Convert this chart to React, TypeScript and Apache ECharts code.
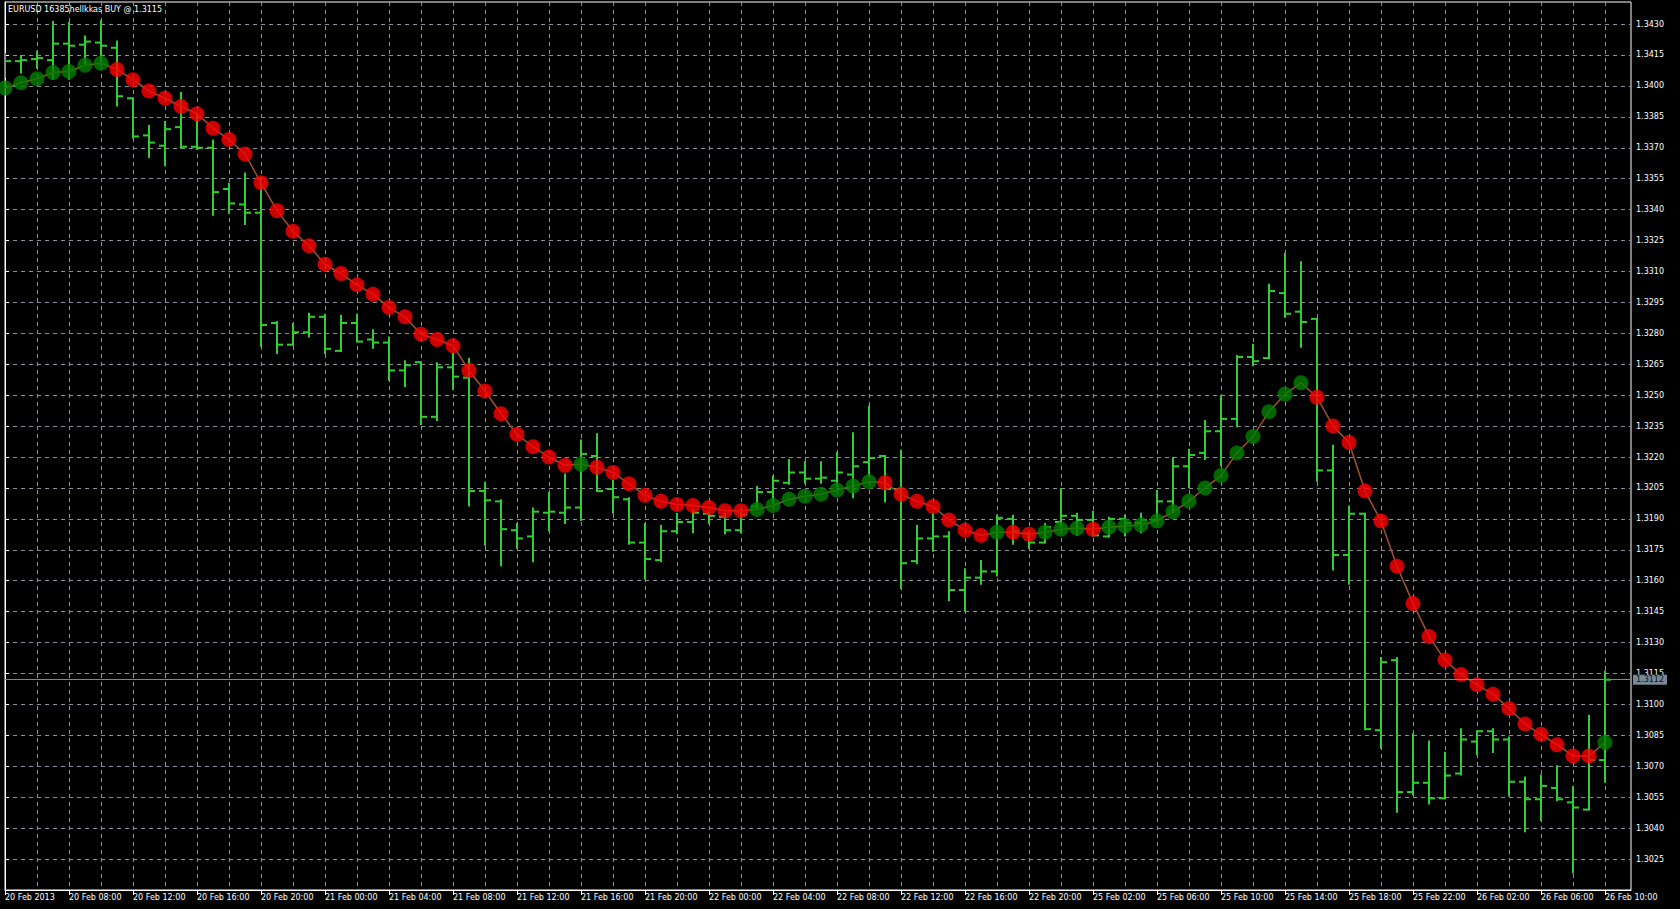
import React, { useEffect, useRef } from 'react';
import * as echarts from 'echarts';

const chartTitle = 'EURUSD 16385hellkkas BUY @ 1.3115';

// one label for every 4th hourly bar
const timeLabels = [
  '20 Feb 2013', '20 Feb 08:00', '20 Feb 12:00', '20 Feb 16:00', '20 Feb 20:00',
  '21 Feb 00:00', '21 Feb 04:00', '21 Feb 08:00', '21 Feb 12:00', '21 Feb 16:00',
  '21 Feb 20:00', '22 Feb 00:00', '22 Feb 04:00', '22 Feb 08:00', '22 Feb 12:00',
  '22 Feb 16:00', '22 Feb 20:00', '25 Feb 02:00', '25 Feb 06:00', '25 Feb 10:00',
  '25 Feb 14:00', '25 Feb 18:00', '25 Feb 22:00', '26 Feb 02:00', '26 Feb 06:00',
  '26 Feb 10:00',
];

const opens = [
  1.3410, 1.3412, 1.3413, 1.34125, 1.34205, 1.3420, 1.3421, 1.34185, 1.3394, 1.3376,
  1.3371, 1.3380, 1.33705, 1.3370, 1.3350, 1.33425, 1.33385, 1.3285, 1.32745, 1.32805,
  1.3288, 1.32715, 1.3285, 1.3277, 1.32755, 1.3262, 1.3266, 1.32395, 1.32635, 1.32585,
  1.32035, 1.31985, 1.31845, 1.31815, 1.3193, 1.3193, 1.31955, 1.32205, 1.32045, 1.31995,
  1.31785, 1.3170, 1.3184, 1.31885, 1.31925, 1.3191, 1.31845, 1.3196, 1.3203, 1.32075,
  1.32125, 1.32095, 1.32085, 1.32115, 1.32175, 1.32205, 1.32045, 1.31695, 1.31805, 1.31815,
  1.31555, 1.31615, 1.31645, 1.3190, 1.3183, 1.31785, 1.31885, 1.31915, 1.31895, 1.31815,
  1.3190, 1.3188, 1.31895, 1.31985, 1.32155, 1.3222, 1.32325, 1.32385, 1.32685, 1.3268,
  1.32995, 1.32905, 1.3287, 1.32135, 1.31725, 1.31925, 1.30875, 1.31215, 1.30575, 1.3062,
  1.30545, 1.30665, 1.3082, 1.3087, 1.3083, 1.30625, 1.3054, 1.30595, 1.30525, 1.3049,
  1.3073,
];

const highs = [
  1.3416, 1.3415, 1.3417, 1.34315, 1.3431, 1.34245, 1.3432, 1.3422, 1.33945, 1.3381,
  1.3383, 1.3397, 1.3387, 1.3374, 1.3353, 1.3358, 1.3356, 1.3286, 1.3285, 1.3290,
  1.32895, 1.3289, 1.32895, 1.3282, 1.32785, 1.3267, 1.32665, 1.3266, 1.32705, 1.3268,
  1.3208, 1.31995, 1.3188, 1.31955, 1.3203, 1.3212, 1.32285, 1.32315, 1.3209, 1.32005,
  1.3188, 1.3187, 1.3193, 1.31945, 1.31935, 1.3193, 1.3195, 1.3206, 1.3211, 1.3219,
  1.3218, 1.3218, 1.32225, 1.3232, 1.3245, 1.3221, 1.32235, 1.3187, 1.3193, 1.3184,
  1.3166, 1.3170, 1.3192, 1.3192, 1.31835, 1.3188, 1.3205, 1.3193, 1.3194, 1.3191,
  1.3192, 1.3193, 1.3204, 1.3220, 1.3224, 1.3238, 1.3250, 1.32695, 1.3275, 1.3304,
  1.3319, 1.3315, 1.32875, 1.3226, 1.31965, 1.3193, 1.3123, 1.3123, 1.3086, 1.30825,
  1.3077, 1.30885, 1.30875, 1.30885, 1.30845, 1.3065, 1.3066, 1.30705, 1.30605, 1.3095,
  1.31165,
];

const lows = [
  1.3404, 1.3406, 1.34085, 1.3403, 1.3403, 1.34105, 1.3410, 1.3390, 1.33745, 1.3365,
  1.3361, 1.33695, 1.3369, 1.3337, 1.3338, 1.33325, 1.32735, 1.3270, 1.3274, 1.3278,
  1.3270, 1.3271, 1.32755, 1.32725, 1.3257, 1.3254, 1.32355, 1.32375, 1.32525, 1.3196,
  1.3177, 1.3167, 1.31755, 1.3169, 1.3184, 1.31875, 1.3189, 1.3203, 1.31925, 1.31775,
  1.31605, 1.3169, 1.31825, 1.3183, 1.31875, 1.31825, 1.3183, 1.3195, 1.31975, 1.32065,
  1.3207, 1.3207, 1.32055, 1.3200, 1.32105, 1.3198, 1.3156, 1.3168, 1.3174, 1.3150,
  1.3145, 1.3158, 1.3162, 1.31775, 1.31755, 1.3178, 1.3186, 1.3182, 1.31815, 1.3181,
  1.31815, 1.3183, 1.3189, 1.3193, 1.3205, 1.32185, 1.32155, 1.32345, 1.3264, 1.32675,
  1.32875, 1.3273, 1.3208, 1.3165, 1.3158, 1.30875, 1.30785, 1.30475, 1.3056, 1.30515,
  1.3054, 1.30655, 1.30755, 1.30765, 1.30555, 1.3038, 1.30435, 1.3053, 1.3018, 1.30485,
  1.3062,
];

const closes = [
  1.3412, 1.34125, 1.34135, 1.34205, 1.34195, 1.34215, 1.34195, 1.3395, 1.33755, 1.33725,
  1.3379, 1.33705, 1.3370, 1.33485, 1.3343, 1.33385, 1.3284, 1.32745, 1.32805, 1.3288,
  1.32725, 1.3285, 1.3276, 1.32755, 1.3262, 1.32645, 1.32395, 1.32635, 1.3259, 1.32035,
  1.3199, 1.3185, 1.31805, 1.31935, 1.31935, 1.31955, 1.32215, 1.32035, 1.32005, 1.31785,
  1.31705, 1.3184, 1.31885, 1.3193, 1.31915, 1.31845, 1.3192, 1.3203, 1.32085, 1.32125,
  1.32095, 1.3210, 1.32125, 1.32155, 1.32195, 1.32045, 1.31685, 1.31805, 1.31815, 1.31555,
  1.31615, 1.31645, 1.31905, 1.3184, 1.31785, 1.3186, 1.31915, 1.31895, 1.3182, 1.3190,
  1.3188, 1.31895, 1.31985, 1.32155, 1.3221, 1.32325, 1.32385, 1.32685, 1.32665, 1.33005,
  1.32895, 1.32855, 1.32135, 1.31725, 1.31925, 1.3088, 1.31205, 1.30575, 1.3062, 1.30545,
  1.30655, 1.3083, 1.3087, 1.3083, 1.30625, 1.3054, 1.30605, 1.3054, 1.3050, 1.3073,
  1.3112,
];

// trend indicator line (one dot per bar)
const signalLine = [
  1.3399, 1.34015, 1.34035, 1.34065, 1.3407, 1.3410, 1.3411, 1.3408, 1.3403, 1.33975,
  1.3394, 1.3390, 1.33865, 1.33795, 1.3374, 1.3367, 1.3353, 1.33395, 1.33295, 1.33225,
  1.33135, 1.3309, 1.33035, 1.3299, 1.32925, 1.3288, 1.32795, 1.3277, 1.3274, 1.3262,
  1.3252, 1.3241, 1.3231, 1.3225, 1.3220, 1.3216, 1.32165, 1.3215, 1.32125, 1.3207,
  1.32015, 1.31985, 1.3197, 1.31965, 1.31955, 1.3194, 1.3194, 1.31945, 1.31965, 1.31995,
  1.3201, 1.3202, 1.3204, 1.3206, 1.3208, 1.32075, 1.3202, 1.31985, 1.3196, 1.31895,
  1.31845, 1.3182, 1.31835, 1.31835, 1.31825, 1.31835, 1.3185, 1.31855, 1.3185, 1.3186,
  1.31865, 1.3187, 1.3189, 1.31935, 1.31985, 1.3205, 1.3211, 1.3222, 1.3230, 1.3242,
  1.32505, 1.3256, 1.3249, 1.3235, 1.3227, 1.32035, 1.3189, 1.3167, 1.3149, 1.3133,
  1.31215, 1.31145, 1.31095, 1.3105, 1.3098, 1.30905, 1.30855, 1.30805, 1.3075, 1.3075,
  1.30815,
];

// 1 = up (green dot), -1 = down (red dot)
const signalTrend = [
  1, 1, 1, 1, 1, 1, 1, -1, -1, -1,
  -1, -1, -1, -1, -1, -1, -1, -1, -1, -1,
  -1, -1, -1, -1, -1, -1, -1, -1, -1, -1,
  -1, -1, -1, -1, -1, -1, 1, -1, -1, -1,
  -1, -1, -1, -1, -1, -1, -1, 1, 1, 1,
  1, 1, 1, 1, 1, -1, -1, -1, -1, -1,
  -1, -1, 1, -1, -1, 1, 1, 1, -1, 1,
  1, 1, 1, 1, 1, 1, 1, 1, 1, 1,
  1, 1, -1, -1, -1, -1, -1, -1, -1, -1,
  -1, -1, -1, -1, -1, -1, -1, -1, -1, -1,
  1,
];

const currentPrice = [1.3112];

const FONT = 'DejaVu Sans';
const BAR_COLOR = '#32cd32';
const GRID_COLOR = '#8a9099';
const UP_DOT = '#008000';
const DOWN_DOT = '#ff0000';
const LINE_COLOR = '#a0522d';
const PRICE_LINE = '#778899';

const X_MAX = 101.625;
const Y_MIN = 1.301;
const Y_MAX = 1.34407;

export default function App() {
  const ref = useRef<HTMLDivElement>(null);

  useEffect(() => {
    if (!ref.current) return;
    const chart = echarts.init(ref.current, undefined, { renderer: 'svg' });

    const barData = opens.map((o, i) => [i, o, highs[i], lows[i], closes[i]]);
    const lineData = signalLine.map((v, i) => [i, v]);
    const dotData = signalLine.map((v, i) => ({
      value: [i, v],
      itemStyle: { color: signalTrend[i] > 0 ? UP_DOT : DOWN_DOT },
    }));

    const option: any = {
      animation: false,
      backgroundColor: '#000000',
      textStyle: { fontFamily: FONT },
      title: {
        text: chartTitle,
        left: 8,
        top: 5,
        padding: 0,
        textStyle: { color: '#ffffff', fontSize: 8, fontWeight: 'normal', fontFamily: FONT },
      },
      grid: {
        left: 5,
        right: 49,
        top: 2,
        bottom: 19,
        show: true,
        borderColor: '#ffffff',
        borderWidth: 1,
        backgroundColor: 'transparent',
        outerBoundsMode: 'none',
      },
      xAxis: [
        {
          type: 'value',
          position: 'top',
          min: 0,
          max: X_MAX,
          interval: 2,
          axisLine: { show: false },
          axisTick: { show: false },
          axisLabel: { show: false },
          splitLine: {
            show: true,
            showMinLine: false,
            showMaxLine: false,
            lineStyle: { color: GRID_COLOR, type: [4, 4], width: 1 },
          },
        },
        {
          type: 'value',
          position: 'bottom',
          min: 0,
          max: X_MAX,
          interval: 4,
          axisLine: { show: true, lineStyle: { color: '#ffffff', width: 1 } },
          axisTick: { show: true, length: 5, lineStyle: { color: '#ffffff', width: 1 } },
          axisLabel: {
            show: true,
            color: '#ffffff',
            fontSize: 8,
            fontFamily: FONT,
            margin: 3,
            align: 'left',
            showMaxLabel: false,
            formatter: (v: number) => {
              const k = v / 4;
              return Number.isInteger(k) && timeLabels[k] ? timeLabels[k] : '';
            },
          },
          splitLine: { show: false },
        },
      ],
      yAxis: {
        type: 'value',
        position: 'right',
        min: Y_MIN,
        max: Y_MAX,
        interval: 0.0015,
        axisLine: { show: true, lineStyle: { color: '#ffffff', width: 1 } },
        axisTick: { show: true, length: 4, lineStyle: { color: '#ffffff', width: 1 } },
        axisLabel: {
          color: '#ffffff',
          fontSize: 8,
          fontFamily: FONT,
          margin: 5,
          showMinLabel: false,
          showMaxLabel: false,
          formatter: (v: number) => v.toFixed(4),
        },
        splitLine: {
          show: true,
          showMinLine: false,
          showMaxLine: false,
          lineStyle: { color: GRID_COLOR, type: [4, 4], width: 1 },
        },
      },
      series: [
        {
          type: 'custom',
          name: 'EURUSD',
          xAxisIndex: 0,
          clip: true,
          z: 2,
          encode: { x: 0, y: [1, 2, 3, 4] },
          data: barData,
          renderItem: (params: any, api: any) => {
            const i = api.value(0);
            const o = api.coord([i, api.value(1)]);
            const h = api.coord([i, api.value(2)]);
            const l = api.coord([i, api.value(3)]);
            const c = api.coord([i, api.value(4)]);
            const x = o[0];
            const style = { stroke: BAR_COLOR, lineWidth: 2 };
            return {
              type: 'group',
              children: [
                { type: 'line', shape: { x1: x, y1: h[1], x2: x, y2: l[1] }, style },
                { type: 'line', shape: { x1: x - 6, y1: o[1], x2: x, y2: o[1] }, style },
                { type: 'line', shape: { x1: x, y1: c[1], x2: x + 6, y2: c[1] }, style },
              ],
            };
          },
        },
        {
          type: 'line',
          name: 'trend line',
          xAxisIndex: 0,
          data: lineData,
          showSymbol: false,
          symbol: 'none',
          z: 3,
          lineStyle: { color: LINE_COLOR, width: 1.5 },
          markLine: {
            silent: true,
            precision: 4,
            symbol: ['none', 'none'],
            lineStyle: { color: PRICE_LINE, type: 'solid', width: 1 },
            label: {
              show: true,
              position: 'end',
              distance: 2,
              formatter: () => currentPrice[0].toFixed(4),
              color: '#111111',
              backgroundColor: PRICE_LINE,
              padding: [1, 3, 1, 3],
              fontSize: 8,
              fontFamily: FONT,
            },
            data: currentPrice.map((v) => ({ yAxis: v })),
          },
        },
        {
          type: 'scatter',
          name: 'trend dots',
          xAxisIndex: 0,
          data: dotData,
          symbol: 'circle',
          symbolSize: 15,
          clip: true,
          z: 4,
        },
      ],
    };

    chart.setOption(option);
    return () => {
      chart.dispose();
    };
  }, []);

  return (
    <div
      ref={ref}
      style={{ position: 'fixed', left: 0, top: 0, width: 1680, height: 909, background: '#000' }}
    />
  );
}
